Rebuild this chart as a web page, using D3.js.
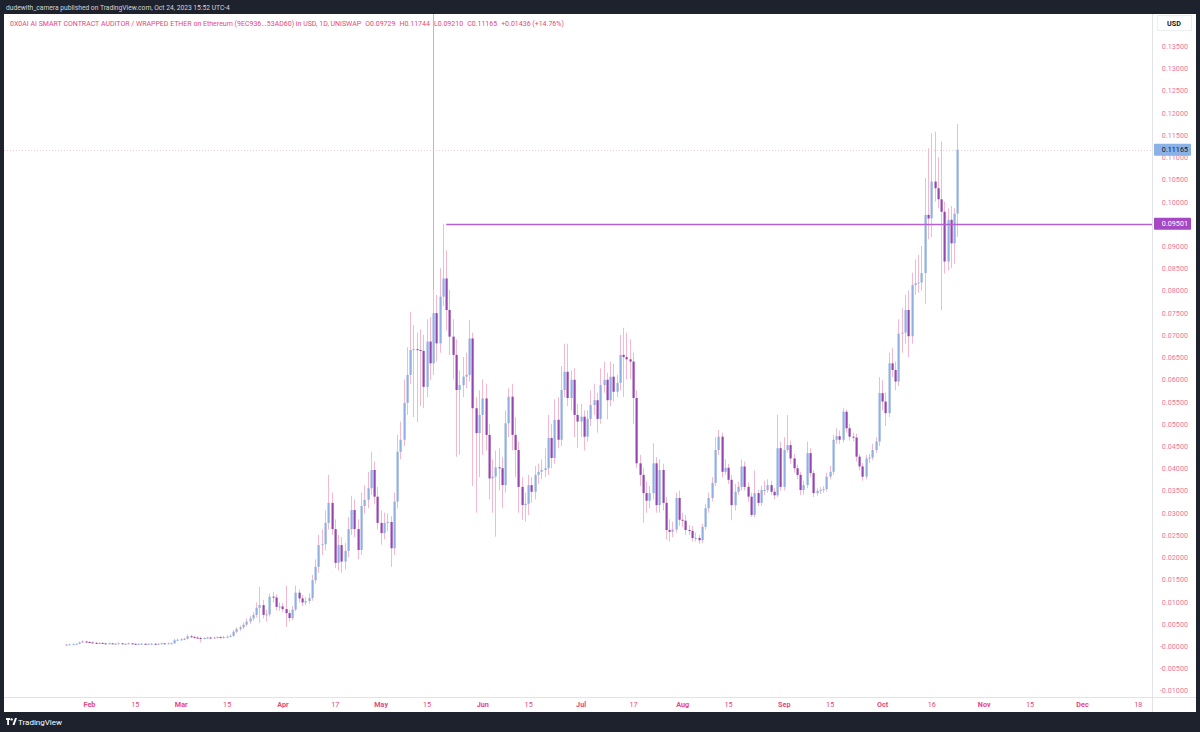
<!DOCTYPE html>
<html><head><meta charset="utf-8">
<script src="https://cdn.jsdelivr.net/npm/d3@7"></script>
<style>body{margin:0;background:#1e222d;overflow:hidden}svg{display:block}text{font-family:Roboto,"Open Sans",sans-serif}</style>
</head><body>
<svg id="c" width="1200" height="732"></svg>
<script>
// ---------- data (daily candles, first candle 2023-01-25) ----------
const startDate = [2023, 0, 25];
const opens = [
.0003,.0003,.0004,.0004,.0005,.0008,.0010,.0009,.0008,.0007,
.0006,.0007,.0006,.0005,.0006,.0005,.0005,.0006,.0005,.0005,
.0006,.0005,.0004,.0005,.0005,.0004,.0005,.0005,.0004,.0005,
.0006,.0005,.0006,.0006,.0013,.0014,.0015,.0016,.0022,.0020,
.0019,.0018,.0017,.0018,.0019,.0018,.0019,.0020,.0019,.0020,
.0021,.0023,.0032,.0038,.0042,.0048,.0055,.0062,.0070,.0086,
.0092,.0070,.0071,.0111,.0109,.0088,.0089,.0083,.0074,.0063,
.0082,.0120,.0107,.0098,.0101,.0108,.0148,.0178,.0227,.0229,
.0277,.0322,.0263,.0187,.0227,.0190,.0214,.0263,.0306,.0263,
.0216,.0315,.0329,.0355,.0396,.0336,.0277,.0254,.0277,.0279,
.0220,.0325,.0437,.0464,.0547,.0610,.0666,.0668,.0666,.0664,
.0583,.0685,.0636,.0749,.0681,.0786,.0827,.0756,.0696,.0655,
.0576,.0587,.0606,.0610,.0692,.0535,.0479,.0520,.0557,.0475,
.0377,.0381,.0402,.0400,.0362,.0501,.0561,.0475,.0441,.0358,
.0317,.0320,.0362,.0347,.0385,.0392,.0396,.0400,.0468,.0423,
.0509,.0464,.0576,.0617,.0558,.0599,.0520,.0505,.0516,.0471,
.0511,.0542,.0553,.0511,.0587,.0599,.0553,.0606,.0572,.0592,
.0655,.0650,.0645,.0640,.0558,.0411,.0385,.0344,.0327,.0344,
.0411,.0317,.0396,.0322,.0261,.0257,.0262,.0333,.0284,.0282,
.0261,.0259,.0243,.0243,.0238,.0268,.0310,.0333,.0367,.0441,
.0471,.0392,.0401,.0374,.0317,.0347,.0358,.0404,.0358,.0336,
.0295,.0344,.0322,.0351,.0351,.0362,.0347,.0339,.0445,.0358,
.0441,.0452,.0422,.0400,.0385,.0351,.0362,.0434,.0389,.0344,
.0349,.0351,.0353,.0381,.0392,.0464,.0472,.0464,.0527,.0490,
.0471,.0469,.0426,.0404,.0381,.0422,.0424,.0441,.0460,.0569,
.0550,.0524,.0636,.0621,.0595,.0703,.0705,.0756,.0697,.0812,
.0816,.0818,.0839,.0970,.0962,.1045,.1030,.1005,.0977,.0865,
.0959,.0906,.09729];
const closes = [
.0003,.0004,.0004,.0005,.0008,.0010,.0009,.0008,.0007,.0006,
.0007,.0006,.0005,.0006,.0005,.0005,.0006,.0005,.0005,.0006,
.0005,.0004,.0005,.0005,.0004,.0005,.0005,.0004,.0005,.0006,
.0005,.0006,.0006,.0013,.0014,.0015,.0016,.0022,.0020,.0019,
.0018,.0017,.0018,.0019,.0018,.0019,.0020,.0019,.0020,.0021,
.0023,.0032,.0038,.0042,.0048,.0055,.0062,.0070,.0086,.0092,
.0070,.0071,.0111,.0109,.0088,.0089,.0083,.0074,.0063,.0082,
.0120,.0107,.0098,.0101,.0108,.0148,.0178,.0227,.0229,.0277,
.0322,.0263,.0187,.0227,.0190,.0214,.0263,.0306,.0263,.0216,
.0315,.0329,.0355,.0396,.0336,.0277,.0254,.0277,.0279,.0220,
.0325,.0437,.0464,.0547,.0610,.0666,.0668,.0666,.0664,.0583,
.0685,.0636,.0749,.0681,.0786,.0827,.0756,.0696,.0655,.0576,
.0587,.0606,.0610,.0692,.0535,.0479,.0520,.0557,.0475,.0377,
.0381,.0402,.0400,.0362,.0501,.0561,.0475,.0441,.0358,.0317,
.0320,.0362,.0347,.0385,.0392,.0396,.0400,.0468,.0423,.0509,
.0464,.0576,.0617,.0558,.0599,.0520,.0505,.0516,.0471,.0511,
.0542,.0553,.0511,.0587,.0599,.0553,.0606,.0572,.0592,.0655,
.0650,.0645,.0640,.0558,.0411,.0385,.0344,.0327,.0344,.0411,
.0317,.0396,.0322,.0261,.0257,.0262,.0333,.0284,.0282,.0261,
.0259,.0243,.0243,.0238,.0268,.0310,.0333,.0367,.0441,.0471,
.0392,.0401,.0374,.0317,.0347,.0358,.0404,.0358,.0336,.0295,
.0344,.0322,.0351,.0351,.0362,.0347,.0339,.0445,.0358,.0441,
.0452,.0422,.0400,.0385,.0351,.0362,.0434,.0389,.0344,.0349,
.0351,.0353,.0381,.0392,.0464,.0472,.0464,.0527,.0490,.0471,
.0469,.0426,.0404,.0381,.0422,.0424,.0441,.0460,.0569,.0550,
.0524,.0636,.0621,.0595,.0703,.0705,.0756,.0697,.0812,.0816,
.0818,.0839,.0970,.0962,.1045,.1030,.1005,.0977,.0865,.0959,
.0906,.09729,.11165];
const highs = [
.0005,.0005,.0006,.0006,.0010,.0013,.0012,.0011,.0010,.0009,
.0009,.0008,.0007,.0008,.0007,.0007,.0008,.0007,.0006,.0008,
.0007,.0006,.0006,.0007,.0006,.0006,.0007,.0006,.0006,.0008,
.0007,.0008,.0008,.0016,.0017,.0018,.0019,.0026,.0025,.0023,
.0022,.0021,.0020,.0021,.0021,.0021,.0022,.0022,.0023,.0024,
.0026,.0036,.0042,.0046,.0053,.0062,.0068,.0076,.0098,.0133,
.0104,.0082,.0118,.0122,.0116,.0098,.0097,.0136,.0081,.0090,
.0136,.0128,.0115,.0110,.0118,.0160,.0195,.0250,.0262,.0305,
.0385,.0345,.0285,.0250,.0245,.0232,.0290,.0338,.0330,.0285,
.0345,.0362,.0392,.0437,.0415,.0358,.0305,.0300,.0298,.0292,
.0345,.0475,.0505,.0600,.0672,.0752,.0722,.0705,.0712,.0700,
.0735,.0740,.0800,.0790,.0850,.0950,.0890,.0802,.0735,.0690,
.0620,.0650,.0660,.0734,.0705,.0560,.0575,.0600,.0590,.0500,
.0420,.0440,.0445,.0425,.0530,.0580,.0590,.0515,.0460,.0380,
.0345,.0385,.0380,.0405,.0410,.0420,.0445,.0520,.0500,.0555,
.0560,.0630,.0680,.0680,.0620,.0625,.0545,.0545,.0530,.0530,
.0575,.0590,.0570,.0625,.0640,.0615,.0640,.0635,.0610,.0700,
.0716,.0705,.0690,.0660,.0575,.0430,.0400,.0370,.0360,.0456,
.0425,.0420,.0410,.0335,.0285,.0280,.0345,.0350,.0300,.0295,
.0272,.0270,.0255,.0250,.0275,.0320,.0345,.0380,.0470,.0486,
.0480,.0420,.0410,.0385,.0365,.0370,.0420,.0415,.0368,.0345,
.0395,.0352,.0360,.0372,.0375,.0372,.0355,.0520,.0460,.0470,
.0520,.0462,.0432,.0408,.0392,.0372,.0460,.0445,.0395,.0355,
.0358,.0360,.0390,.0405,.0475,.0490,.0485,.0535,.0532,.0500,
.0480,.0478,.0432,.0412,.0430,.0432,.0455,.0470,.0605,.0598,
.0570,.0660,.0670,.0640,.0735,.0760,.0790,.0800,.0840,.0870,
.0880,.0900,.1053,.1120,.1154,.1157,.1100,.1135,.1000,.0985,
.0990,.0985,.11744];
const lows = [
.0002,.0002,.0003,.0003,.0004,.0007,.0008,.0007,.0006,.0005,
.0005,.0005,.0004,.0004,.0004,.0004,.0004,.0004,.0004,.0004,
.0004,.0003,.0003,.0004,.0003,.0003,.0004,.0003,.0003,.0004,
.0004,.0004,.0005,.0005,.0011,.0012,.0013,.0015,.0018,.0017,
.0016,.0008,.0015,.0016,.0016,.0016,.0017,.0017,.0017,.0018,
.0019,.0021,.0029,.0034,.0038,.0044,.0050,.0057,.0064,.0052,
.0062,.0055,.0066,.0098,.0080,.0079,.0076,.0043,.0055,.0058,
.0078,.0098,.0090,.0092,.0095,.0102,.0140,.0165,.0205,.0215,
.0262,.0250,.0175,.0170,.0165,.0172,.0200,.0250,.0245,.0195,
.0205,.0298,.0310,.0340,.0320,.0262,.0228,.0240,.0258,.0178,
.0205,.0310,.0420,.0450,.0520,.0590,.0515,.0504,.0540,.0535,
.0560,.0598,.0610,.0640,.0660,.0765,.0710,.0655,.0600,.0426,
.0430,.0560,.0580,.0595,.0360,.0300,.0380,.0430,.0440,.0330,
.0300,.0246,.0350,.0310,.0345,.0470,.0440,.0380,.0300,.0284,
.0280,.0295,.0322,.0330,.0365,.0375,.0380,.0385,.0400,.0410,
.0445,.0450,.0560,.0540,.0530,.0470,.0446,.0470,.0440,.0460,
.0495,.0520,.0480,.0500,.0570,.0510,.0540,.0550,.0560,.0575,
.0560,.0600,.0600,.0500,.0400,.0360,.0277,.0300,.0310,.0330,
.0300,.0300,.0305,.0240,.0235,.0245,.0255,.0270,.0268,.0250,
.0250,.0235,.0235,.0230,.0232,.0262,.0300,.0325,.0360,.0430,
.0380,.0385,.0365,.0283,.0305,.0340,.0350,.0350,.0325,.0290,
.0290,.0315,.0315,.0340,.0345,.0340,.0330,.0335,.0350,.0350,
.0435,.0410,.0390,.0375,.0340,.0340,.0355,.0380,.0335,.0338,
.0342,.0345,.0348,.0375,.0385,.0455,.0455,.0458,.0480,.0462,
.0460,.0415,.0395,.0372,.0375,.0412,.0418,.0435,.0450,.0530,
.0495,.0515,.0605,.0575,.0585,.0660,.0680,.0650,.0680,.0790,
.0795,.0800,.0770,.0915,.0920,.1000,.0985,.0756,.0838,.0845,
.0850,.0860,.0921];

// axis ticks
const yTickValues = [-0.010,-0.005,0.000,0.005,0.010,0.015,0.020,0.025,0.030,0.035,0.040,0.045,0.050,0.055,0.060,0.065,0.070,0.075,0.080,0.085,0.090,0.095,0.100,0.105,0.110,0.115,0.120,0.125,0.130,0.135];
const yTickLabels = ["-0.01000","-0.00500","-0.00000","0.00500","0.01000","0.01500","0.02000","0.02500","0.03000","0.03500","0.04000","0.04500","0.05000","0.05500","0.06000","0.06500","0.07000","0.07500","0.08000","0.08500","0.09000","0.09500","0.10000","0.10500","0.11000","0.11500","0.12000","0.12500","0.13000","0.13500"];
const xTickDates = [[2023,1,1],[2023,1,15],[2023,2,1],[2023,2,15],[2023,3,1],[2023,3,17],[2023,4,1],[2023,4,15],[2023,5,1],[2023,5,15],[2023,6,1],[2023,6,17],[2023,7,1],[2023,7,15],[2023,8,1],[2023,8,15],[2023,9,1],[2023,9,16],[2023,10,1],[2023,10,15],[2023,11,1],[2023,11,18]];
const xTickLabels = ["Feb","15","Mar","15","Apr","17","May","15","Jun","15","Jul","17","Aug","15","Sep","15","Oct","16","Nov","15","Dec","18"];
const xTickIsMonth = [1,0,1,0,1,0,1,0,1,0,1,0,1,0,1,0,1,0,1,0,1,0];

// annotations
const lastPrice = 0.11165, lastPriceText = "0.11165";
const rayLevel = 0.09501, rayText = "0.09501", rayAnchor = [2023,4,21];
const vLineDate = [2023,4,17];
const headerText = "dudewith_camera published on TradingView.com, Oct 24, 2023 15:52 UTC-4";
const titleMain = "0X0AI AI SMART CONTRACT AUDITOR / WRAPPED ETHER on Ethereum (9EC936...53AD60) in USD, 1D, UNISWAP";
const titleStats = ["O0.09729","H0.11744","L0.09210","C0.11165","+0.01436 (+14.76%)"];

// ---------- drawing ----------
const U = a => new Date(Date.UTC(a[0], a[1], a[2]));
const svg = d3.select("#c");
const plot = {l: 4, r: 1152, t: 14, b: 697};
const axisR = 1196;

const x = d3.scaleUtc().domain([U([2023,1,1]), U([2023,11,1])]).range([89, 1082]);
const y = d3.scaleLinear().domain([0, 0.135]).range([646, 46]);

const data = closes.map((c, i) => ({
  date: d3.utcDay.offset(U(startDate), i), o: opens[i], h: highs[i], l: lows[i], c
}));

// backgrounds
svg.append("rect").attr("width",1200).attr("height",732).attr("fill","#1e222d");
svg.append("rect").attr("x",plot.l).attr("y",plot.t).attr("width",axisR-plot.l).attr("height",712-plot.t).attr("fill","#ffffff");
svg.append("line").attr("x1",plot.r+0.5).attr("x2",plot.r+0.5).attr("y1",plot.t).attr("y2",712).attr("stroke","#e0e3eb");
svg.append("line").attr("x1",plot.l).attr("x2",axisR).attr("y1",plot.b+0.5).attr("y2",plot.b+0.5).attr("stroke","#e0e3eb");

// header
svg.append("text").attr("x",6).attr("y",10).attr("fill","#d1d4dc").attr("font-size","6.7px").text(headerText);

svg.append("defs").append("clipPath").attr("id","clip").append("rect")
  .attr("x",plot.l).attr("y",plot.t).attr("width",plot.r-plot.l).attr("height",plot.b-plot.t);
const g = svg.append("g").attr("clip-path","url(#clip)");

// last price dotted line
g.append("line").attr("x1",plot.l).attr("x2",plot.r).attr("y1",Math.round(y(lastPrice))+0.5).attr("y2",Math.round(y(lastPrice))+0.5)
  .attr("stroke","#efc9d7").attr("stroke-dasharray","1,2");

// vertical pink line
const vx = Math.round(x(U(vLineDate)))+0.5;
const vIdx = data.findIndex(d => +d.date === +U(vLineDate));
g.append("line").attr("x1",vx).attr("x2",vx).attr("y1",plot.t).attr("y2",y(data[vIdx].h)).attr("stroke","#f59ab9").attr("stroke-width",1);

// candles
const upCol = "#8fb0e0", dnCol = "#9546b0", wickCol = "#f6b8cd";
const cg = g.append("g");
cg.selectAll("line.w").data(data).join("line")
  .attr("x1", d => Math.round(x(d.date))+0.5).attr("x2", d => Math.round(x(d.date))+0.5)
  .attr("y1", d => y(d.h)).attr("y2", d => y(d.l))
  .attr("stroke", wickCol).attr("stroke-width",1);
cg.selectAll("rect.b").data(data).join("rect")
  .attr("x", d => Math.round(x(d.date))-0.5).attr("width", 2.2)
  .attr("y", d => y(Math.max(d.o,d.c)))
  .attr("height", d => Math.max(1, Math.abs(y(d.o)-y(d.c))))
  .attr("fill", d => d.c >= d.o ? upCol : dnCol);

// horizontal ray
const rayY = Math.round(y(rayLevel))+0.5;
g.append("line").attr("x1",x(U(rayAnchor))).attr("x2",plot.r).attr("y1",rayY).attr("y2",rayY)
  .attr("stroke","#b660cf").attr("stroke-width",1.6);

// title line (one flowing text)
const titleCol = "#e8467c";
const tt = svg.append("text").attr("x",10).attr("y",26).attr("fill",titleCol).attr("font-size","7px");
tt.append("tspan").text(titleMain);
titleStats.forEach(t => tt.append("tspan").attr("dx", 4).text(t));

// y axis
const yAxis = d3.axisRight(y).tickValues(yTickValues).tickSize(0).tickPadding(0)
  .tickFormat((d,i) => yTickLabels[i]);
const ya = svg.append("g").attr("transform",`translate(1188,0)`).call(yAxis);
ya.select(".domain").remove();
ya.selectAll("text").attr("text-anchor","end").attr("fill","#e8799c").attr("font-size","7.2px").attr("font-family","Roboto, sans-serif").attr("dy","0.35em");

// USD box
svg.append("rect").attr("x",1157.5).attr("y",15.5).attr("width",34).attr("height",15).attr("fill","#fff").attr("stroke","#eceef2");
svg.append("text").attr("x",1174).attr("y",26).attr("text-anchor","middle").attr("fill","#131722").attr("font-size","7.2px").attr("font-weight","bold").text("USD");

// price labels
function priceBox(v, txt, bg, fg){
  const yy = y(v);
  svg.append("rect").attr("x",1154).attr("y",yy-6).attr("width",37).attr("height",12).attr("rx",1).attr("fill",bg);
  svg.append("text").attr("x",1188).attr("y",yy).attr("dy","0.35em").attr("text-anchor","end").attr("fill",fg).attr("font-size","7.2px").text(txt);
}
priceBox(lastPrice, lastPriceText, "#8ab2e6", "#131722");
priceBox(rayLevel, rayText, "#a648c4", "#ffffff");

// x axis
const xAxis = d3.axisBottom(x).tickValues(xTickDates.map(U)).tickSize(0).tickPadding(0)
  .tickFormat((d,i) => xTickLabels[i]);
const xa = svg.append("g").attr("transform",`translate(0,${plot.b+4})`).call(xAxis);
xa.select(".domain").remove();
xa.selectAll("text").attr("fill","#e8467c").attr("font-size","7.2px").attr("font-family","Roboto, sans-serif")
  .attr("font-weight",(d,i) => xTickIsMonth[i] ? "bold" : "normal").attr("dy","0.9em");

// footer logo
const lg = svg.append("g").attr("transform","translate(6,718)").attr("fill","#ffffff");
lg.append("rect").attr("x",0).attr("y",0).attr("width",4).attr("height",2);
lg.append("rect").attr("x",1.2).attr("y",0).attr("width",1.8).attr("height",7);
lg.append("circle").attr("cx",5.6).attr("cy",1.4).attr("r",1.2);
lg.append("path").attr("d","M6.5 7 L9 0 L11 0 L8.5 7 Z");
svg.append("text").attr("x",18).attr("y",725).attr("fill","#ffffff").attr("font-size","8px").text("TradingView");
</script>
</body></html>
